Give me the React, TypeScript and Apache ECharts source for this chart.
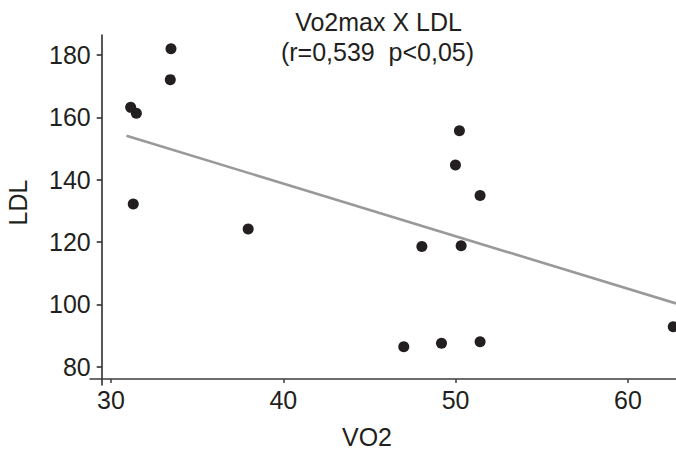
import React, { useEffect, useRef } from "react";
import * as echarts from "echarts";

// VO2 (x) and LDL (y) for each subject
const vo2 = [33.48, 33.44, 31.14, 31.47, 31.29, 37.96, 50.22, 49.99, 51.42, 48.04, 50.32, 46.99, 49.18, 51.42, 62.63];
const ldl = [182.0, 172.1, 163.2, 161.3, 132.2, 124.2, 155.7, 144.7, 134.9, 118.6, 118.8, 86.4, 87.5, 88.0, 92.8];

// trend line end points [vo2, ldl]
const trendStart = [30.9, 154.1];
const trendEnd = [62.79, 100.3];

const xTicks = [30, 40, 50, 60];
const yTicks = [80, 100, 120, 140, 160, 180];

const titleLines = ["Vo2max X LDL", "(r=0,539  p<0,05)"];
const xName = "VO2";
const yName = "LDL";

const FONT = "'Liberation Sans', Arial, Helvetica, sans-serif";
const INK = "#231f20";

export default function App() {
  const ref = useRef<HTMLDivElement>(null);

  useEffect(() => {
    if (!ref.current) return;
    const chart = echarts.init(ref.current, undefined, { renderer: "svg" });
    const points = vo2.map((v, i) => [v, ldl[i]]);
    chart.setOption({
      animation: false,
      backgroundColor: "#ffffff",
      grid: { left: 90, right: 0, top: 35, bottom: 65, containLabel: false },
      xAxis: {
        type: "value",
        min: 28.78,
        max: 62.79,
        offset: -6,
        splitLine: { show: false },
        axisLine: { show: true, lineStyle: { color: "#3c3c3c", width: 1.5 } },
        axisTick: { show: true, customValues: xTicks, length: 4, lineStyle: { color: "#3c3c3c", width: 1.5 } },
        axisLabel: {
          customValues: xTicks,
          margin: 8,
          color: INK,
          fontSize: 25,
          fontFamily: FONT,
        },
      },
      yAxis: {
        type: "value",
        min: 74.13,
        max: 186.42,
        offset: -11.7,
        splitLine: { show: false },
        axisLine: { show: true, lineStyle: { color: INK, width: 1.5 } },
        axisTick: { show: true, customValues: yTicks, length: 5, lineStyle: { color: INK, width: 1.5 } },
        axisLabel: {
          customValues: yTicks,
          margin: 11,
          color: INK,
          fontSize: 25,
          fontFamily: FONT,
        },
      },
      series: [
        {
          type: "line",
          data: [trendStart, trendEnd],
          showSymbol: false,
          symbol: "none",
          lineStyle: { color: "#999999", width: 2.6 },
          z: 2,
        },
        {
          type: "scatter",
          data: points,
          symbol: "circle",
          symbolSize: 11,
          itemStyle: { color: INK, opacity: 1 },
          z: 3,
        },
      ],
      graphic: [
        {
          type: "text",
          x: 378.5,
          y: 22,
          style: { text: titleLines[0], fill: INK, font: `25px ${FONT}`, align: "center", verticalAlign: "middle" },
        },
        {
          type: "text",
          x: 377.5,
          y: 51.5,
          style: { text: titleLines[1], fill: INK, font: `25px ${FONT}`, align: "center", verticalAlign: "middle" },
        },
        {
          type: "text",
          x: 17.5,
          y: 202.5,
          rotation: Math.PI / 2,
          style: { text: yName, fill: INK, font: `25px ${FONT}`, align: "center", verticalAlign: "middle" },
        },
        {
          type: "text",
          x: 367,
          y: 437,
          style: { text: xName, fill: INK, font: `25px ${FONT}`, lineHeight: 25, align: "center", verticalAlign: "middle" },
        },
      ],
    });
    return () => chart.dispose();
  }, []);

  return (
    <div
      ref={ref}
      style={{ position: "fixed", left: 0, top: 0, width: 676, height: 450, background: "#fff" }}
    />
  );
}
